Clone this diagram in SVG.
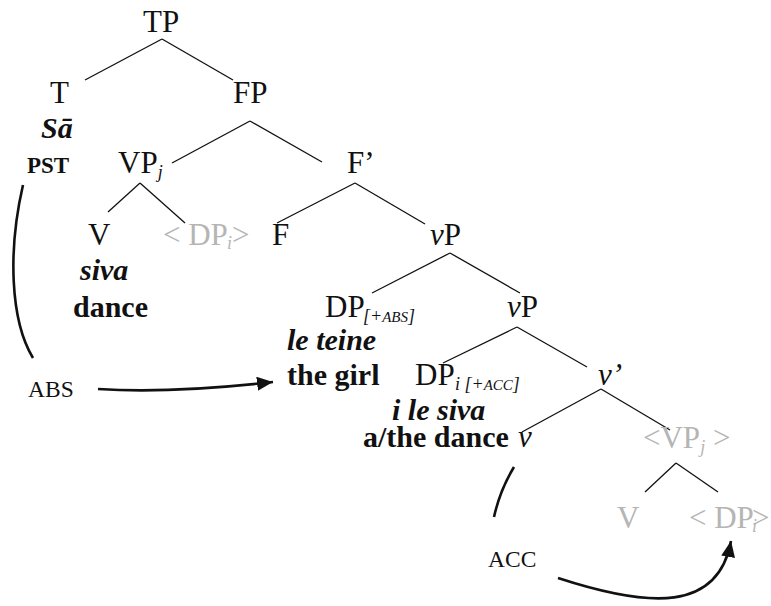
<svg xmlns="http://www.w3.org/2000/svg" width="771" height="606" viewBox="0 0 771 606">
<style>
text{font-family:"Liberation Serif","Times New Roman",serif;fill:#111}
.n{font-size:31px}
.b{font-size:30px;font-weight:bold}
.bi{font-size:30px;font-weight:bold;font-style:italic}
.s{font-size:23.5px}
.sb{font-size:23px;font-weight:bold}
.i{font-style:italic}
.g{fill:#b5b5b5}
.sub{font-size:18px;font-style:italic}
.sc{font-size:15px;font-style:italic}
.t line{stroke:#111;stroke-width:1.3}
.c{fill:none;stroke:#111;stroke-width:2.6}
</style>
<defs>
<marker id="ah" markerUnits="userSpaceOnUse" markerWidth="20" markerHeight="20" refX="16" refY="7" orient="auto" viewBox="0 0 20 20">
<path d="M0,0 L16,7 L0,14 Z" fill="#111"/>
</marker>
</defs>
<g id="connectors">
<g class="t">
<line x1="162" y1="39" x2="85" y2="80"/>
<line x1="162" y1="39" x2="233" y2="80"/>
<line x1="250" y1="121" x2="172" y2="163"/>
<line x1="250" y1="121" x2="322" y2="162"/>
<line x1="140" y1="183" x2="108" y2="212"/>
<line x1="140" y1="183" x2="185" y2="223"/>
<line x1="355" y1="183" x2="277" y2="223"/>
<line x1="355" y1="183" x2="425" y2="224"/>
<line x1="450" y1="253" x2="372" y2="293"/>
<line x1="450" y1="253" x2="520" y2="293"/>
<line x1="517" y1="327" x2="443" y2="363"/>
<line x1="517" y1="327" x2="587" y2="367"/>
<line x1="601" y1="389" x2="522" y2="432"/>
<line x1="601" y1="389" x2="670" y2="430"/>
<line x1="676" y1="463" x2="645" y2="492"/>
<line x1="676" y1="463" x2="718" y2="492"/>
</g>
<path class="c" d="M23,185 C8,250 10,320 33,358"/>
<path class="c" d="M98,389 C160,393 220,388 273,382" marker-end="url(#ah)"/>
<path class="c" d="M514,467 Q500,490 494,517"/>
<path class="c" d="M558,578 C650,608 718,612 731,541" marker-end="url(#ah)"/>
</g>
<g id="TP"><text class="n" x="143" y="32">TP</text></g>
<g id="T"><text class="n" x="50" y="103">T</text>
<text class="bi" x="41" y="138">Sā</text>
<text class="sb" x="27" y="173">PST</text></g>
<g id="FP"><text class="n" x="233" y="103">FP</text></g>
<g id="VPj"><text class="n" x="118" y="173">VP<tspan class="sub" dy="5">j</tspan></text></g>
<g id="Fbar"><text class="n" x="347" y="173">F’</text></g>
<g id="V"><text class="n" x="88" y="245">V</text>
<text class="bi" x="80" y="280">siva</text>
<text class="b" x="73" y="317">dance</text></g>
<g id="DPi1"><text class="n g" x="163" y="245">&lt; DP</text><text class="sub g" x="227" y="249">i</text><text class="n g" x="232" y="245">&gt;</text></g>
<g id="F"><text class="n" x="272" y="245">F</text></g>
<g id="vP1"><text class="n" x="430" y="245"><tspan class="i">v</tspan>P</text></g>
<g id="DPabs"><text class="n" x="325" y="317">DP</text><text class="sub" x="363" y="322">[+<tspan class="sc">ABS</tspan>]</text>
<text class="bi" x="287" y="350">le teine</text>
<text class="b" x="287" y="385">the girl</text></g>
<g id="vP2"><text class="n" x="507" y="317"><tspan class="i">v</tspan>P</text></g>
<g id="ABS"><text class="s" x="28" y="397">ABS</text></g>
<g id="DPacc"><text class="n" x="415" y="385">DP</text><text class="sub" x="455" y="390">i [+<tspan class="sc">ACC</tspan>]</text>
<text class="bi" x="392" y="420">i le siva</text>
<text class="b" x="363" y="447">a/the dance</text></g>
<g id="vbar"><text class="n i" x="598" y="385">v’</text></g>
<g id="v"><text class="n i" x="518" y="447">v</text></g>
<g id="VPj2"><text class="n g" x="643" y="448">&lt;VP<tspan class="sub" dy="5">j</tspan><tspan dy="-5"> &gt;</tspan></text></g>
<g id="V2"><text class="n g" x="617" y="528">V</text></g>
<g id="DPi2"><text class="n g" x="689" y="528">&lt; DP</text><text class="sub g" x="752" y="532">i</text><text class="n g" x="752" y="528">&gt;</text></g>
<g id="ACC"><text class="s" x="488" y="567">ACC</text></g>
</svg>
